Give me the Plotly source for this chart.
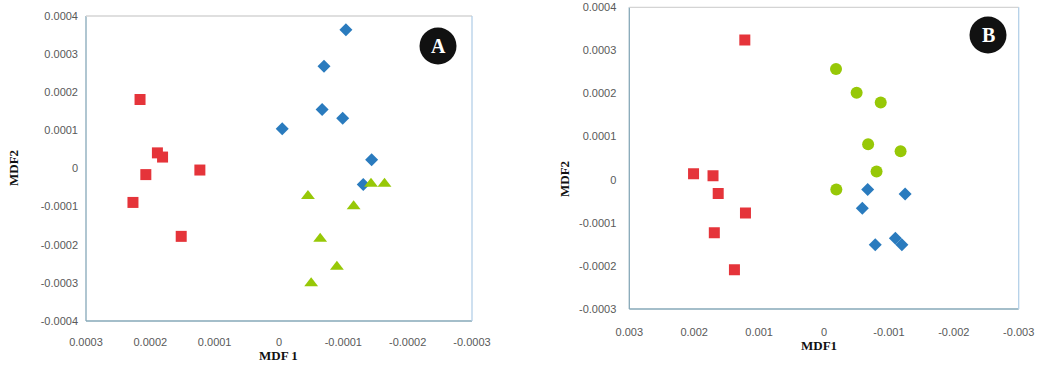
import plotly.graph_objects as go

# ---------------- Panel A data ----------------
a_red_x = [0.000216, 0.000189, 0.000181, 0.000207, 0.000123, 0.000227, 0.000152]
a_red_y = [0.000181, 0.000041, 0.000030, -0.000016, -0.000004, -0.000089, -0.000178]

a_blue_x = [-0.000104, -0.000070, -0.000067, -0.000099, -0.000005, -0.000144, -0.000131]
a_blue_y = [0.000364, 0.000268, 0.000155, 0.000132, 0.000104, 0.000023, -0.000042]

a_green_x = [-0.000143, -0.000164, -0.000045, -0.000116, -0.000064, -0.000090, -0.000050]
a_green_y = [-0.000040, -0.000040, -0.000072, -0.000099, -0.000184, -0.000258, -0.000301]

# ---------------- Panel B data ----------------
b_red_x = [0.00122, 0.00201, 0.00171, 0.00163, 0.00121, 0.00169, 0.00138]
b_red_y = [0.000324, 0.000014, 0.000009, -0.000032, -0.000077, -0.000123, -0.000209]

b_green_x = [-0.000185, -0.000503, -0.000874, -0.000680, -0.001180, -0.000810, -0.000190]
b_green_y = [0.000257, 0.000202, 0.000179, 0.000082, 0.000066, 0.000019, -0.000023]

b_blue_x = [-0.000673, -0.001250, -0.000590, -0.001100, -0.000790, -0.001200]
b_blue_y = [-0.000023, -0.000033, -0.000066, -0.000136, -0.000151, -0.000151]

# ---------------- Tick labels ----------------
a_xticks = [0.0003, 0.0002, 0.0001, 0, -0.0001, -0.0002, -0.0003]
a_xtext = ["0.0003", "0.0002", "0.0001", "0", "-0.0001", "-0.0002", "-0.0003"]
a_yticks = [0.0004, 0.0003, 0.0002, 0.0001, 0, -0.0001, -0.0002, -0.0003, -0.0004]
a_ytext = ["0.0004", "0.0003", "0.0002", "0.0001", "0", "-0.0001", "-0.0002", "-0.0003", "-0.0004"]

b_xticks = [0.003, 0.002, 0.001, 0, -0.001, -0.002, -0.003]
b_xtext = ["0.003", "0.002", "0.001", "0", "-0.001", "-0.002", "-0.003"]
b_yticks = [0.0004, 0.0003, 0.0002, 0.0001, 0, -0.0001, -0.0002, -0.0003]
b_ytext = ["0.0004", "0.0003", "0.0002", "0.0001", "0", "-0.0001", "-0.0002", "-0.0003"]

RED = "#E5343A"
BLUE = "#2A7BBE"
GREEN = "#97C807"

fig = go.Figure()

def add(x, y, color, symbol, size, xa, ya):
    fig.add_trace(go.Scatter(x=x, y=y, mode="markers", xaxis=xa, yaxis=ya,
                             marker=dict(color=color, symbol=symbol, size=size,
                                         line=dict(width=0)),
                             showlegend=False, hoverinfo="skip"))

add(a_red_x, a_red_y, RED, "square", 11, "x", "y")
add(a_blue_x, a_blue_y, BLUE, "diamond", 10, "x", "y")
add(a_green_x, a_green_y, GREEN, "triangle-up", 12, "x", "y")

add(b_red_x, b_red_y, RED, "square", 11, "x2", "y2")
add(b_green_x, b_green_y, GREEN, "circle", 12, "x2", "y2")
add(b_blue_x, b_blue_y, BLUE, "diamond", 10, "x2", "y2")

tickfont = dict(family="Liberation Sans, Arial, sans-serif", size=11, color="#595959")

common_axis = dict(showgrid=False, zeroline=False, showline=False, ticks="",
                   tickfont=tickfont, fixedrange=True, automargin=False)

fig.update_layout(
    template="none",
    width=1044, height=370, autosize=False,
    margin=dict(l=0, r=0, t=0, b=0, pad=0),
    paper_bgcolor="white", plot_bgcolor="white",
    xaxis=dict(domain=[86/1044, 472/1044], range=[0.0003, -0.0003],
               tickmode="array", tickvals=a_xticks, ticktext=a_xtext,
               ticklabelstandoff=13, anchor="y", **common_axis),
    yaxis=dict(domain=[1-321/370, 1-16/370], range=[-0.0004, 0.0004],
               tickmode="array", tickvals=a_yticks, ticktext=a_ytext,
               ticklabelstandoff=7, anchor="x", **common_axis),
    xaxis2=dict(domain=[629.3/1044, 1018.7/1044], range=[0.003, -0.003],
                tickmode="array", tickvals=b_xticks, ticktext=b_xtext,
                ticklabelstandoff=15, anchor="y2", **common_axis),
    yaxis2=dict(domain=[1-309/370, 1-7.3/370], range=[-0.0003, 0.0004],
                tickmode="array", tickvals=b_yticks, ticktext=b_ytext,
                ticklabelstandoff=12, anchor="x2", **common_axis),
)

# Plot frame lines
def frame(xr, yr):
    fig.add_shape(type="line", xref=xr+" domain", yref=yr+" domain", x0=0, x1=1, y0=0, y1=0,
                  line=dict(color="#86A8B8", width=1.3))
    fig.add_shape(type="line", xref=xr+" domain", yref=yr+" domain", x0=0, x1=0, y0=0, y1=1,
                  line=dict(color="#86A8B8", width=1.3))
    fig.add_shape(type="line", xref=xr+" domain", yref=yr+" domain", x0=0, x1=1, y0=1, y1=1,
                  line=dict(color="#D4D4D4", width=1.3))
    fig.add_shape(type="line", xref=xr+" domain", yref=yr+" domain", x0=1, x1=1, y0=0, y1=1,
                  line=dict(color="#B4D0E8", width=1.3))

frame("x", "y")
frame("x2", "y2")

# Panel letter badges
def badge(cx, cy, letter):
    r = 18.5
    fig.add_shape(type="circle", xref="paper", yref="paper",
                  x0=(cx-r)/1044, x1=(cx+r)/1044, y0=1-(cy+r)/370, y1=1-(cy-r)/370,
                  fillcolor="#111111", line=dict(width=0))
    fig.add_annotation(x=cx/1044, y=1-cy/370, xref="paper", yref="paper", text="<b>"+letter+"</b>",
                       showarrow=False, font=dict(family="Liberation Serif, serif", size=20, color="white"),
                       xanchor="center", yanchor="middle")

badge(438, 46, "A")
badge(988, 35, "B")

titlefont = dict(family="Liberation Serif, Times New Roman, serif", size=13, color="#111111")

def title(x, y, text, angle=0):
    fig.add_annotation(x=x/1044, y=1-y/370, xref="paper", yref="paper", text="<b>"+text+"</b>",
                       showarrow=False, font=titlefont, textangle=angle,
                       xanchor="center", yanchor="middle")

title(278, 355, "MDF 1")
title(13, 168, "MDF2", -90)
title(819, 345, "MDF1")
title(565, 179, "MDF2", -90)

fig.write_html("out.html", config={"displayModeBar": False, "staticPlot": True},
               post_script="document.body.style.margin='0';document.body.style.overflow='hidden';")
